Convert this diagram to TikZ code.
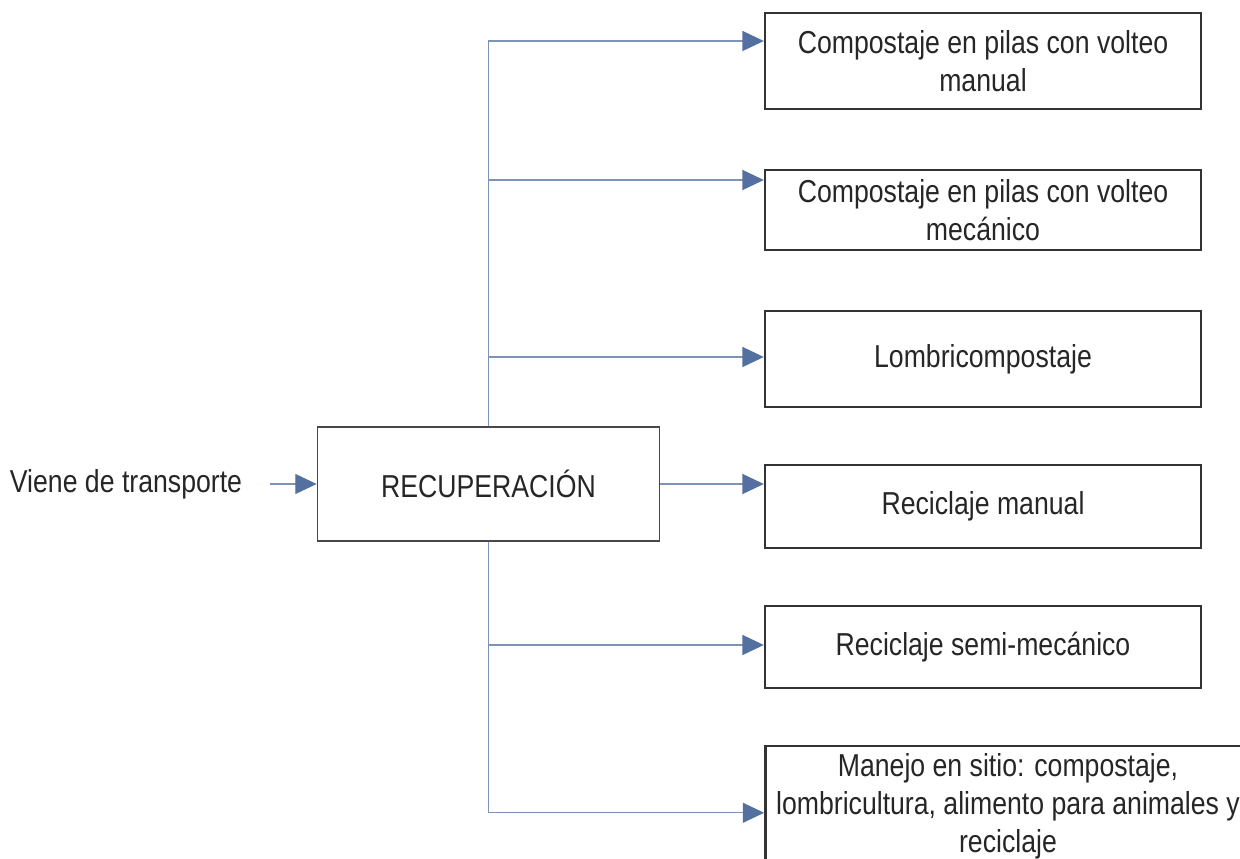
\documentclass[tikz,border=0pt]{standalone}
\usepackage{fontspec}
\setmainfont{Liberation Sans}[FakeStretch=0.84]
\usetikzlibrary{arrows.meta}
\definecolor{linecol}{RGB}{125,148,184}
\definecolor{tipcol}{RGB}{84,112,160}
\definecolor{boxcol}{RGB}{51,51,51}
\tikzset{
  procbox/.style={draw=boxcol, line width=1.8pt, align=center, minimum width=327pt, inner sep=2pt},
  mainbox/.style={draw=boxcol!90, line width=0.8pt, align=center, minimum width=257pt, minimum height=85.5pt},
  conn/.style={draw=linecol, line width=0.9pt, -{Triangle[length=16pt,width=15pt,color=tipcol]}},
  every node/.style={font=\fontsize{23.8pt}{28.5pt}\selectfont, text=black!85}
}
\begin{document}
\begin{tikzpicture}[x=0.75pt,y=0.75pt,yscale=-1,xscale=1]
    \useasboundingbox (0,0) rectangle (1240,859);
    % central block
    \node [mainbox] (rec) at (488.5,484) {RECUPERACIÓN};
    \node (viene) at (126,484) {Viene de transporte};
    \coordinate (inflow) at (270,484);
    % options
    \node [procbox, minimum height=72pt] (b1) at (983,61) {Compostaje en pilas con volteo\\manual};
    \node [procbox, minimum height=60pt] (b2) at (983,210) {Compostaje en pilas con volteo\\mecánico};
    \node [procbox, minimum height=72pt] (b3) at (983,359) {Lombricompostaje};
    \node [procbox, minimum height=62.25pt] (b4) at (983,506.5) {Reciclaje manual};
    \node [procbox, minimum height=61.5pt] (b5) at (983,647) {Reciclaje semi-mecánico};
    \node [procbox, minimum width=364pt, minimum height=90pt] (b6) at (1008,806) {Manejo en sitio: compostaje,\\lombricultura, alimento para animales y\\reciclaje};
    % connectors
    \draw [conn] (inflow) -- (rec.west);
    \draw [conn] (rec.north) |- ([yshift=-15pt]b1.west);
    \draw [conn] (rec.north) |- ([yshift=-22.5pt]b2.west);
    \draw [conn] (rec.north) |- ([yshift=-1.5pt]b3.west);
    \draw [conn] (rec.east) -- (rec.east -| b4.west);
    \draw [conn] (rec.south) |- ([yshift=-1.5pt]b5.west);
    \draw [conn] (rec.south) |- ([yshift=51pt]b6.north west);
\end{tikzpicture}
\end{document}
